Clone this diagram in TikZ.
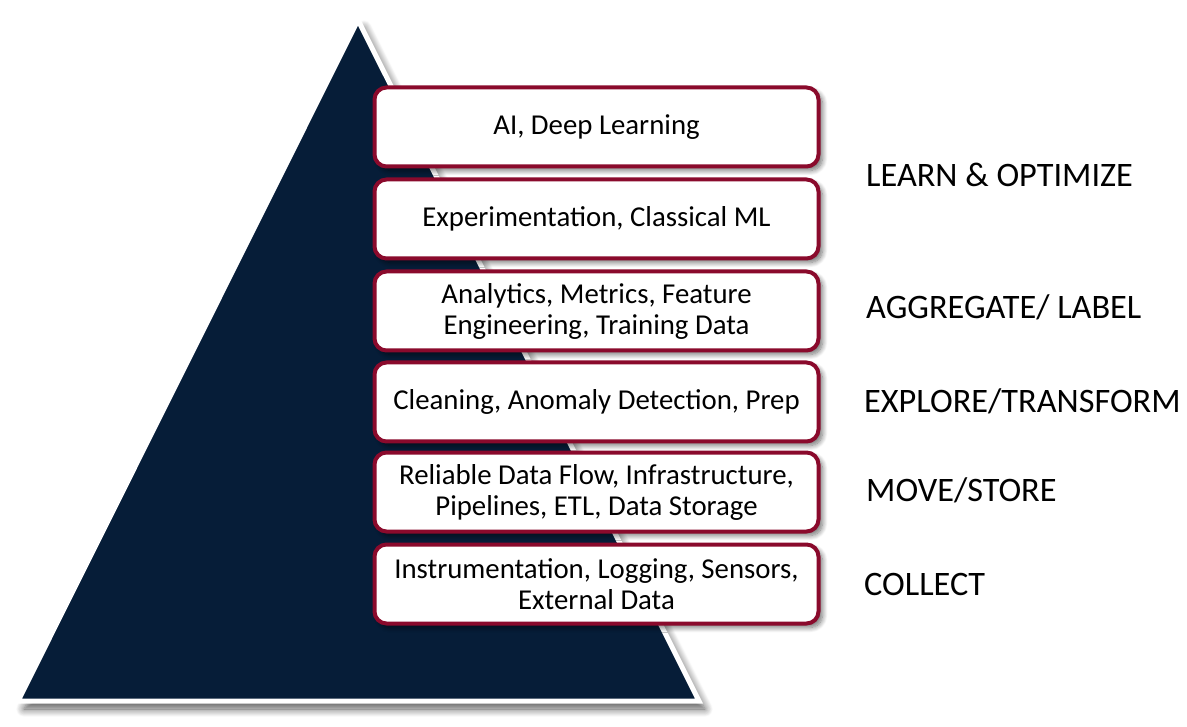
\documentclass[tikz,border=0pt]{standalone}
\usepackage{fontspec}
\setmainfont{Carlito}
\usetikzlibrary{shadows.blur}
\definecolor{navy}{HTML}{061D38}
\definecolor{wine}{HTML}{8A0A2C}
\tikzset{
  layerbox/.style={draw=wine, line width=4pt, fill=white, rounded corners=12pt,
    minimum width=444pt, minimum height=79pt, align=center, inner sep=0pt,
    font=\fontsize{28.8}{31}\selectfont,
    blur shadow={shadow xshift=4pt, shadow yshift=-4pt, shadow blur radius=5pt, shadow blur steps=10, shadow opacity=55}},
  stage/.style={anchor=west, font=\fontsize{34.3}{40}\selectfont, inner sep=0pt}
}
\begin{document}
\begin{tikzpicture}[x=1pt,y=-1pt]
\useasboundingbox (0,0) rectangle (1187,727);
\coordinate (apex) at (358,20);
\coordinate (bl) at (18,701);
\coordinate (br) at (699,701);
\path[fill=navy, draw=white, line width=5pt, line join=miter,
  blur shadow={shadow xshift=6pt, shadow yshift=-8pt, shadow blur radius=8pt, shadow blur steps=12, shadow opacity=65}]
  (apex) -- (br) -- (bl) -- cycle;
\node[layerbox] (b1) at (596.5,127) {AI, Deep Learning};
\node[layerbox] (b2) at (596.5,219) {Experimentation, Classical ML};
\node[layerbox] (b3) at (596.5,311) {Analytics, Metrics, Feature\\Engineering, Training Data};
\node[layerbox] (b4) at (596.5,402) {Cleaning, Anomaly Detection, Prep};
\node[layerbox] (b5) at (596.5,492) {Reliable Data Flow, Infrastructure,\\Pipelines, ETL, Data Storage};
\node[layerbox] (b6) at (596.5,584) {Instrumentation, Logging, Sensors,\\External Data};
\node[stage] (s1) at (866,175) {LEARN \& OPTIMIZE};
\node[stage] (s2) at (866,307) {AGGREGATE/ LABEL};
\node[stage] (s3) at (864,401) {EXPLORE/TRANSFORM};
\node[stage] (s4) at (866,490) {MOVE/STORE};
\node[stage] (s5) at (864,584) {COLLECT};
\end{tikzpicture}
\end{document}
